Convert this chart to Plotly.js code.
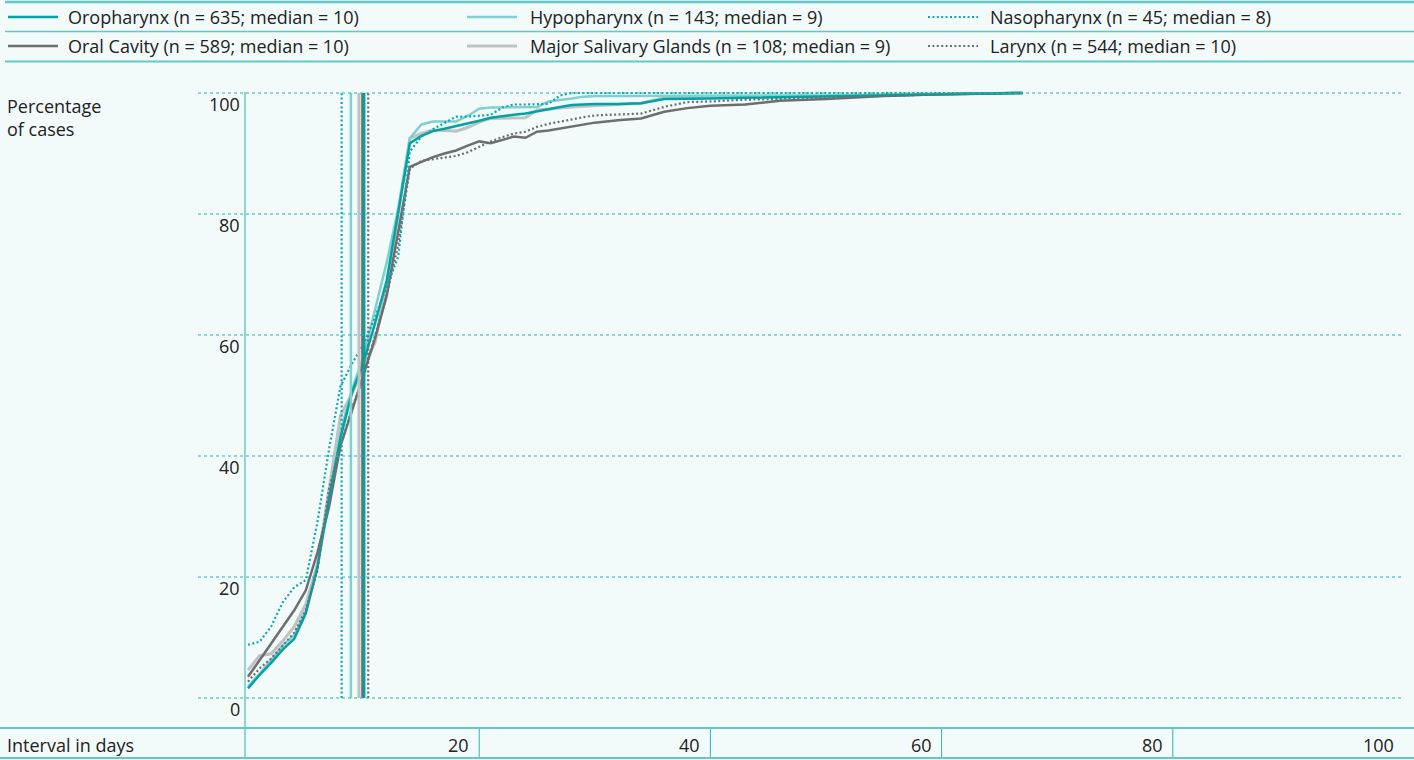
<!DOCTYPE html>
<html>
<head>
<meta charset="utf-8">
<script src="https://cdn.plot.ly/plotly-3.0.1.min.js"></script>
<style>
html,body{margin:0;padding:0;background:#f2fafa;}
#chart{width:1414px;height:760px;}
</style>
</head>
<body>
<div id="chart"></div>
<script>
// ---------- DATA ----------
const seriesNames   = ["Oropharynx", "Oral Cavity", "Hypopharynx", "Major Salivary Glands", "Nasopharynx", "Larynx"];
const seriesN       = [635, 589, 143, 108, 45, 544];
const seriesMedian  = [10, 10, 9, 9, 8, 10];
const medianLinePos = [10.05, 9.9, 8.9, 9.6, 8.1, 10.4];

const days = [0,1,2,3,4,5,6,7,8,9,10,11,12,13,14,15,16,17,18,19,20,21,22,23,24,25,26,27,28,29,30,32,34,36,38,40,43,46,50,55,60,67];

const oropharynx = [1.6,3.8,5.8,8.0,9.8,14,21.5,33,43,50.5,55.5,62,69,80,91.7,
  92.9,93.7,94.1,94.5,94.9,95.4,95.9,96.2,96.4,96.6,96.9,97.3,97.7,98.0,98.1,98.2,
  98.2,98.3,99.0,99.1,99.1,99.2,99.3,99.4,99.5,99.7,100];
const oralCavity = [3.5,6.3,9.1,11.8,14.5,17.8,24,31.5,41.7,47.5,53.5,59.5,66.5,77.5,87.8,
  88.6,89.4,90.0,90.5,91.3,92.0,91.7,92.2,92.8,92.6,93.6,93.8,94.1,94.4,94.8,95.1,
  95.5,95.8,96.9,97.5,97.9,98.1,98.7,99.0,99.5,99.8,100];
const hypopharynx = [1.9,4.0,6.3,8.7,10.4,14.5,22,32,44,51,56.5,64.5,72,81,92.5,
  94.8,95.3,95.3,95.3,96.2,97.4,97.6,97.6,97.6,97.6,97.7,98.6,98.8,99.1,99.4,99.5,
  99.5,99.5,99.5,99.5,99.5,99.5,99.6,99.6,99.7,99.8,100];
const salivary = [4.6,7.0,7.3,9.4,11.8,15.5,22,34.7,46.7,50.3,54.8,58.8,68.5,80,92.5,
  93.3,93.9,93.8,93.7,94.3,95.2,95.8,95.8,95.8,95.9,97.2,97.4,97.6,97.7,97.8,97.9,
  98.1,98.3,99.2,99.2,99.2,99.3,99.4,99.5,99.6,99.8,100];
const nasopharynx = [8.8,9.3,11.8,15.8,18.3,19.5,29,41,51.5,55.3,58.5,63,68,73,90.3,
  92.8,94.0,95.1,96.1,96.1,96.2,96.4,97.6,98.1,98.1,98.1,98.2,99.6,100,100,100,
  100,100,100,100,100,100,100,100,100,100,100];
const larynx = [2.7,4.9,6.5,8.6,10.8,14.5,21,34.5,41.5,48,53,60,66.5,75,87.5,
  88.8,89.1,89.4,89.6,90.2,91.1,92.0,92.7,93.3,93.6,94.4,94.9,95.3,95.6,96.0,96.3,
  96.5,96.6,97.7,98.5,98.6,98.9,99.0,99.2,99.5,99.8,100];

const seriesValues = [oropharynx, oralCavity, hypopharynx, salivary, nasopharynx, larynx];

const yTicks = [0, 20, 40, 60, 80, 100];
const xTicks = [20, 40, 60, 80, 100];
const yTitle = "Percentage<br>of cases";
const xTitle = "Interval in days";

// ---------- STYLE ----------
const seriesColor = ["#00a3a3", "#6d6e71", "#80d0d0", "#bfc1c3", "#10a8a8", "#6d6e71"];
const seriesWidth = [2.5, 2.5, 2.5, 3, 2.2, 2.2];
const seriesDash  = ["solid", "solid", "solid", "solid", "2px,2.4px", "2px,2.4px"];
const drawOrder   = [3, 2, 1, 0, 5, 4];

const FONT = "'Open Sans', 'Noto Sans', sans-serif";
const FS = 18;
const TXT = "#222222";
const GRID = "#2db4b4";
const RULE = "#62c8c8";

// plot-area pixel geometry
const L = 245, R = 1404, T = 90, B = 701;
const PXU = 6.05; // pixels per y unit
const X0PX = 248, PXD = 11.56; // day 0 pixel, pixels per day
const xr = [(L - X0PX) / PXD, (R - X0PX) / PXD];
const yr = [-(B - 698) / PXU, 100 + (93 - T) / PXU];
function px(x) { return (x - L) / (R - L); }
function py(y) { return (B - y) / (B - T); }
const font = {family: FONT, size: FS, color: TXT};

// ---------- TRACES ----------
const traces = [];
drawOrder.forEach(i => {
  traces.push({
    type: "scatter", mode: "lines", x: days, y: seriesValues[i], name: seriesNames[i],
    line: {color: seriesColor[i], width: seriesWidth[i], dash: seriesDash[i]},
    showlegend: false, hoverinfo: "skip"
  });
});
drawOrder.forEach(i => {
  traces.push({
    type: "scatter", mode: "lines", x: [medianLinePos[i], medianLinePos[i]], y: [0, 100],
    line: {color: seriesColor[i], width: seriesWidth[i], dash: seriesDash[i]},
    showlegend: false, hoverinfo: "skip"
  });
});

// ---------- SHAPES ----------
const shapes = [];
[[2, 2.5], [31.5, 1.5], [61.5, 2]].forEach(([yy, w]) => {
  shapes.push({type: "line", xref: "paper", yref: "paper", x0: px(5), x1: px(1414), y0: py(yy), y1: py(yy),
    line: {color: RULE, width: w}});
});
yTicks.forEach(v => {
  shapes.push({type: "line", xref: "paper", yref: "y", x0: px(198), x1: 1, y0: v, y1: v,
    line: {color: GRID, width: 1, dash: "3px,3px"}});
});
shapes.push({type: "line", xref: "paper", yref: "paper", x0: px(245), x1: px(245), y0: py(92), y1: py(758),
  line: {color: GRID, width: 1}});
[728, 758].forEach(yy => {
  shapes.push({type: "line", xref: "paper", yref: "paper", x0: px(0), x1: px(1414), y0: py(yy), y1: py(yy),
    line: {color: RULE, width: 2}});
});
xTicks.slice(0, -1).forEach(t => {
  shapes.push({type: "line", xref: "x", yref: "paper", x0: t, x1: t, y0: py(729), y1: py(757),
    line: {color: GRID, width: 1}});
});

// ---------- ANNOTATIONS ----------
const annotations = [];
const base = {showarrow: false, borderpad: 0, font: font};
yTicks.forEach(v => {
  annotations.push(Object.assign({}, base, {text: String(v), xref: "paper", yref: "y", x: px(241), y: v,
    xanchor: "right", yanchor: "middle", yshift: -11}));
});
xTicks.forEach(t => {
  annotations.push(Object.assign({}, base, {text: String(t), xref: "x", yref: "paper", x: t, y: py(745),
    xanchor: "right", yanchor: "middle", xshift: -9}));
});
annotations.push(Object.assign({}, base, {text: xTitle, xref: "paper", yref: "paper", x: px(6), y: py(745),
  xanchor: "left", yanchor: "middle"}));
annotations.push(Object.assign({}, base, {text: yTitle, xref: "paper", yref: "paper", x: px(6), y: py(93),
  xanchor: "left", yanchor: "top", align: "left"}));

// legend (custom, 3 columns x 2 rows)
const legendOrder = [0, 2, 4, 1, 3, 5];
const colSample = [8, 467, 928];
const colText = [67, 529, 989];
const rowY = [17, 46];
legendOrder.forEach((si, k) => {
  const c = k % 3, r = Math.floor(k / 3);
  shapes.push({type: "line", xref: "paper", yref: "paper", x0: px(colSample[c]), x1: px(colSample[c] + 50),
    y0: py(rowY[r]), y1: py(rowY[r]),
    line: {color: seriesColor[si], width: seriesWidth[si], dash: seriesDash[si]}});
  annotations.push(Object.assign({}, base, {
    text: seriesNames[si] + " (n = " + seriesN[si] + "; median = " + seriesMedian[si] + ")",
    xref: "paper", yref: "paper", x: px(colText[c]), y: py(rowY[r]), xanchor: "left", yanchor: "middle"}));
});

const layout = {
  width: 1414, height: 760,
  margin: {l: L, r: 1414 - R, t: T, b: 760 - B, pad: 0},
  paper_bgcolor: "#f2fafa", plot_bgcolor: "rgba(0,0,0,0)",
  xaxis: {range: xr, visible: false, fixedrange: true},
  yaxis: {range: yr, visible: false, fixedrange: true},
  showlegend: false,
  shapes: shapes, annotations: annotations,
  font: {family: FONT, color: TXT}
};

Plotly.newPlot("chart", traces, layout, {displayModeBar: false, staticPlot: true});
</script>
</body>
</html>
